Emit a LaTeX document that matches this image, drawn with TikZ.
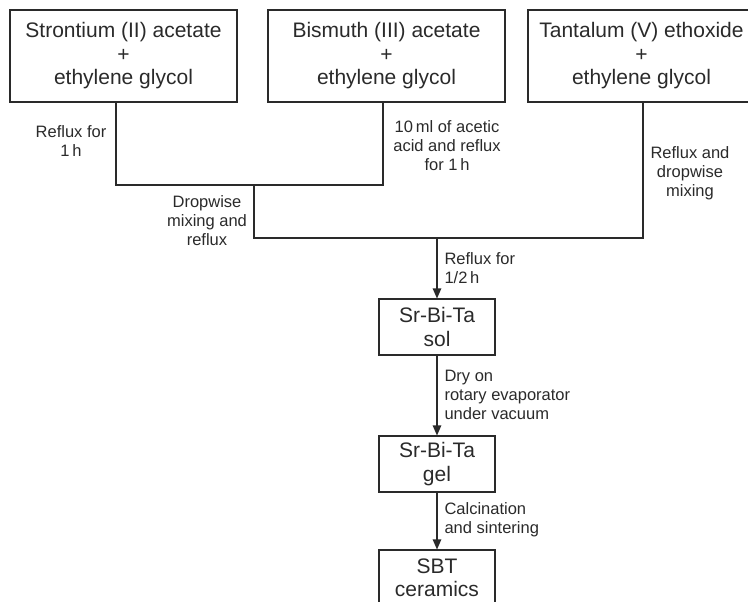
\documentclass[tikz,border=0pt]{standalone}
\usepackage{fontspec}
\setmainfont{Liberation Sans}
\usetikzlibrary{arrows.meta}
\definecolor{ink}{HTML}{2A2A2A}
\begin{document}
\begin{tikzpicture}[x=1pt,y=-1pt,
  color=ink, line width=1.1pt,
  box/.style={draw, rectangle, inner sep=0pt, align=center,
    font=\fontsize{21}{23.5}\selectfont},
  stepbox/.style={box, minimum width=116pt, minimum height=56pt},
  srcbox/.style={box, minimum height=92pt},
  lbl/.style={inner sep=0pt, align=center, anchor=north,
    font=\fontsize{16.5}{19}\selectfont},
  lbll/.style={lbl, align=left, anchor=north west},
  flow/.style={-{Triangle[length=10pt,width=8.5pt]}},
]
\useasboundingbox (0,0) rectangle (748,602);
\clip (0,0) rectangle (748,602);

% starting solutions
\node[srcbox, minimum width=227pt] (sr) at (123.5,56) {Strontium (II) acetate\\+\\ethylene glycol};
\node[srcbox, minimum width=237pt] (bi) at (386.5,56) {Bismuth (III) acetate\\+\\ethylene glycol};
\node[srcbox, minimum width=227pt] (ta) at (641.5,56) {Tantalum (V) ethoxide\\+\\ethylene glycol};

% process steps
\node[stepbox] (sol) at (437,327) {Sr-Bi-Ta\\sol};
\node[stepbox] (gel) at (437,464) {Sr-Bi-Ta\\gel};
\node[stepbox] (sbt) at (437,578) {SBT\\ceramics};

% junction points of the mixing lines
\coordinate (srdrop) at (116,185);
\coordinate (bidrop) at (383,185);
\coordinate (mix) at (254,185);
\coordinate (mixdrop) at (254,238);
\coordinate (tadrop) at (643,238);
\coordinate (feed) at (437,238);

\draw (srdrop |- sr.south) -- (srdrop) -- (bidrop) -- (bidrop |- bi.south);
\draw (mix) -- (mixdrop) -- (tadrop) -- (tadrop |- ta.south);
\draw[flow] (feed) -- (sol.north);
\draw[flow] (sol.south) -- (gel.north);
\draw[flow] (gel.south) -- (sbt.north);

% step conditions
\node[lbl] (l1) at (71,125) {Reflux for\\1\,h};
\node[lbl] (l2) at (447,120) {10\,ml of acetic\\acid and reflux\\for 1\,h};
\node[lbl] (l3) at (690,146) {Reflux and\\dropwise\\mixing};
\node[lbl] (l4) at (207,195) {Dropwise\\mixing and\\reflux};
\node[lbll] (l5) at (444,252) {Reflux for\\1/2\,h};
\node[lbll] (l6) at (444,370) {Dry on\\rotary evaporator\\under vacuum};
\node[lbll] (l7) at (444,502) {Calcination\\and sintering};
\end{tikzpicture}
\end{document}
